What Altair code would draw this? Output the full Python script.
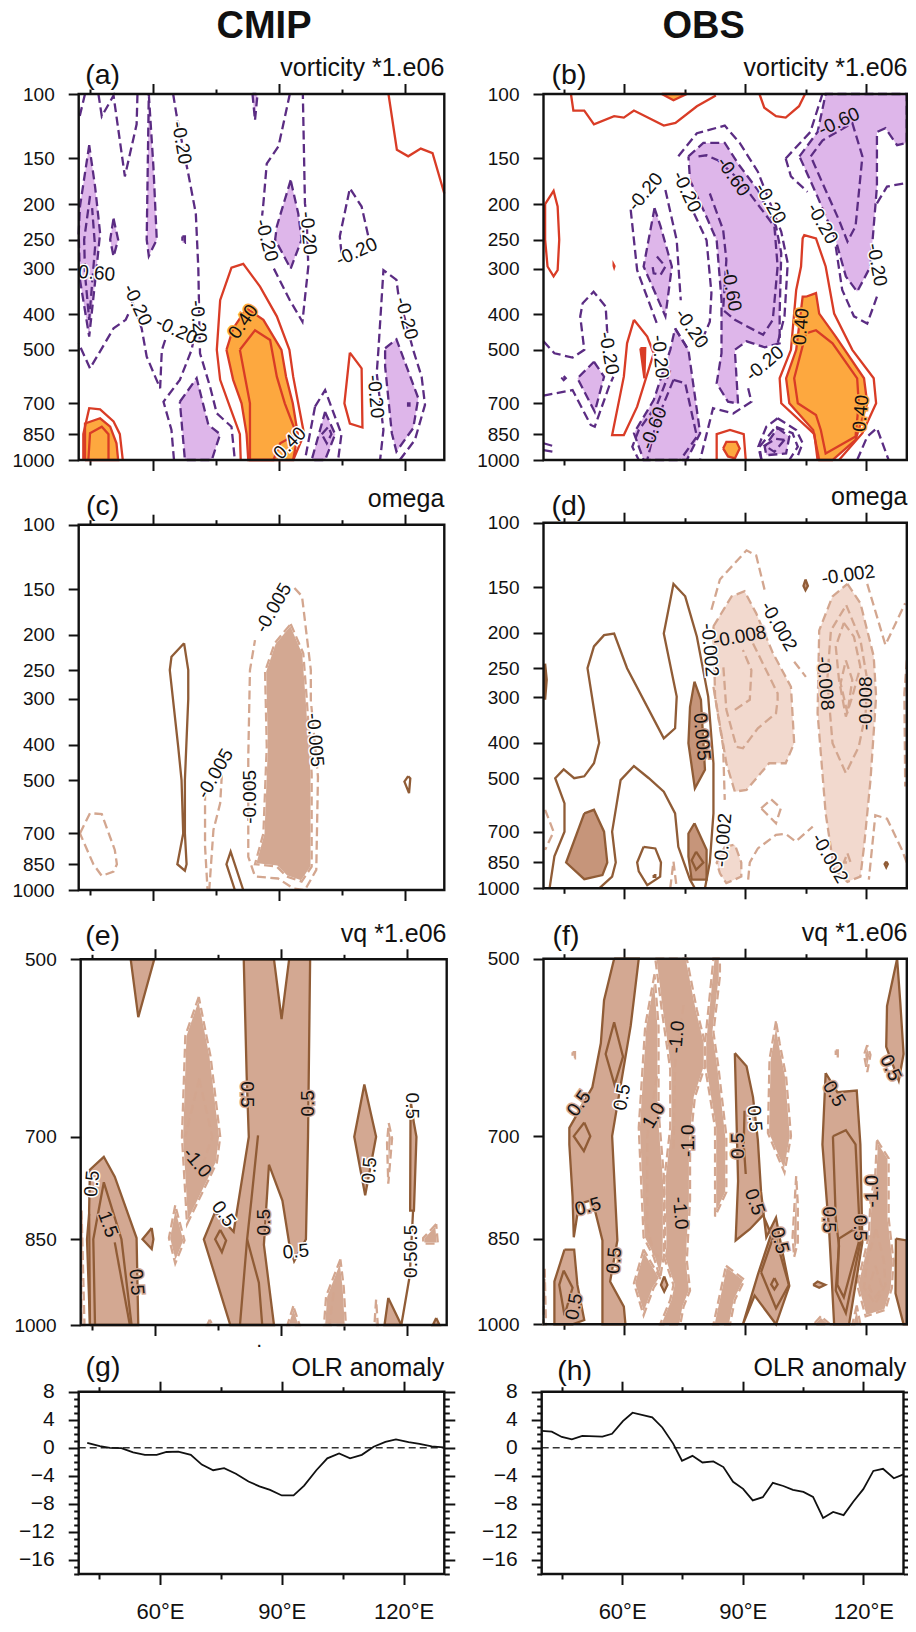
import altair as alt
import pandas as pd

# ---------------- colours
RED = '#D93C26'; PUR = '#5B2C83'; PURF = '#DEB6EA'; ORG = '#FDA83F'
BRN = '#905C36'; LBR = '#D3A68F'; BRF = '#D3A892'; DKF = '#C6957A'; LTF = '#F2D9CE'
INK = '#111111'; FONT = 'Liberation Sans'

LON_TICKS = [60, 90, 120]
LON_MINOR = [45, 75, 105]
P_TICKS = [100, 150, 200, 250, 300, 400, 500, 700, 850, 1000]
VQ_TICKS = [500, 700, 850, 1000]
OLR_TICKS = [8, 4, 0, -4, -8, -12, -16]
OLR_MINOR = [7, 6, 5, 3, 2, 1, -1, -2, -3, -5, -6, -7, -9, -10, -11, -13, -14, -15, -17, -18]

# ---------------- (a) vorticity CMIP : contours as (lon, hPa)
A_ORANGE = [
 [(77.5,500),(79.1,437),(82.3,385),(86.3,414),(90.6,500),(91.7,592),(93.3,700),(94.5,850),(93.4,1000),(82.7,1000),(82.3,850),(81.1,700),(79.1,604)],
 [(43.8,1000),(43.8,795),(47.4,769),(49.8,811),(51.3,900),(51.7,1000)],
]
A_PURPLE = [
 [(44.8,138),(42.6,203),(42.3,240),(42.6,322),(44.8,460),(46.6,296),(47.4,240),(46.2,179)],
 [(50.6,219),(51.7,250),(50.6,278),(49.8,250)],
 [(59,100),(60.1,158),(60.9,250),(59,277),(58.5,250)],
 [(67,245),(67.6,245),(67.6,255),(67,255)],
 [(83.7,100),(84.3,118),(84.9,100)],
 [(66.4,693),(70.4,598),(73.2,802),(76,850),(74,1000),(67.6,1000)],
 [(92.8,172),(89.5,230),(89.1,250),(92.8,300),(95.4,250),(94.6,212)],
 [(115.3,495),(118,468),(123.2,678),(122,818),(118,948),(116.9,845),(115.3,555)],
 [(101,739),(103.4,850),(101,1000),(97.8,1000)],
]
A_RED = [
 [(116.1,100),(118.1,142),(120.8,148),(123.8,141),(126.6,145),(129.4,187)],
 [(80.9,1000),(80.7,850),(78.3,715),(76,604),(75.2,500),(76,366),(78.7,298),(81.5,291),(85.5,336),(89.5,405),(92.5,500),(93.4,592),(94.6,700),(96,850),(93.4,1000)],
 [(80.7,500),(84.3,442),(87.9,470),(89.5,592),(91.4,700),(94.2,850),(90.3,900),(88.7,1000),(83.1,1000),(83.1,700),(81.9,592),(80.7,500)],
 [(43.4,1000),(43.4,850),(44.8,722),(47.4,727),(50.6,785),(52.1,850),(52.8,1000)],
 [(44.6,1000),(45,845),(47.8,811),(49.4,850),(49.4,1000)],
 [(106.9,509),(109.7,562),(109.9,815),(106.9,795),(105.6,700),(106.9,509)],
]
A_PDASH = [
 [(43.8,100),(42.3,118)],
 [(47,100),(47.8,115),(50.6,101),(53.3,168),(56.1,121),(56.3,100)],
 [(64.8,100),(65.6,114),(68.4,165),(70.2,212),(70.8,300),(71,398),(71.2,511),(73.6,631),(75.2,746),(78.7,811),(79.5,1000)],
 [(65,1000),(64.4,828),(62.5,693),(66.4,604),(69.2,500),(69.5,480)],
 [(62.9,470),(62.1,501),(61.7,637),(58.5,522),(57.3,437),(54.9,366),(54.3,340)],
 [(54.1,400),(53.5,414),(50.6,437),(45,562),(42.3,480)],
 [(92.6,100),(89.9,139),(87.1,155),(86.3,199),(86,215)],
 [(88.8,300),(92.6,366),(95.6,419),(97,296),(96.6,216),(96.2,199),(95.7,100)],
 [(104.9,272),(104.5,245),(106.9,181),(109.7,203),(111.3,245)],
 [(118.8,1000),(122.4,881),(124.8,707),(124,592),(122,501),(118.4,350),(118,322),(114.9,303),(113.7,501),(113.3,579),(114.9,828),(114.1,1000)],
 [(98.6,715),(101,644),(104.9,850),(104.1,1000)],
 [(98.6,715),(96.2,1000)],
 [(100.2,850),(101.8,811),(102.5,850),(101.4,900),(100.2,850)],
 [(45,190),(43.6,250),(43.8,310),(44.8,414),(46.2,262),(45.5,205)],
 [(120.5,700),(121.1,700),(121.1,710),(120.5,710)],
]
A_LABELS = [
 ('-0.20',66.8,136,80,'white'),('0.60',46.6,309,5,'white'),('-0.20',56.3,377,65,'white'),
 ('-0.20',65.6,442,25,'white'),('-0.20',70.8,419,85,'white'),('0.40',81.5,419,-55,ORG),
 ('-0.20',87.1,251,75,'white'),('-0.20',97,240,85,'white'),('-0.20',108.5,270,-25,'white'),
 ('-0.20',120.4,410,75,'white'),('-0.20',113,671,85,'white'),('0.40',92.6,900,-45,'white'),
]

# ---------------- (b) vorticity OBS
B_ORANGE = [
 [(69.3,100),(72.2,104),(75.5,100)],
 [(105,358),(107.5,350),(108.3,398),(112.4,460),(119.4,598),(120.2,700),(117.3,881),(111.6,1000),(108.3,1000),(106.8,828),(100.9,700),(100.1,598),(102.6,500),(104.2,358)],
 [(84.5,930),(85.3,892),(87.8,892),(88.6,930),(87.4,990),(85.7,978)],
]
B_PURPLE = [
 [(75.9,148),(79.6,136),(84.9,136),(88.2,155),(93.1,183),(97.6,230),(98.9,272),(98.5,398),(98.5,480),(94.8,492),(90.3,474),(87.4,500),(88.2,701),(85.7,693),(82.9,617),(84.1,511),(84.1,366),(82.9,251),(80,212),(76.3,172)],
 [(103.4,148),(107.9,127),(109.9,100),(130,100),(130,136),(127.6,138),(124.7,124),(122.6,127),(122.6,179),(121,296),(117.7,347),(114.9,315),(112.4,251),(107.9,191)],
 [(67.5,205),(64.8,296),(70.2,405),(71.8,296),(69,230)],
 [(52.5,539),(55,592),(52.7,739),(48.4,598)],
 [(45,590),(45.5,598),(45,605),(44.6,598)],
 [(72.6,437),(75.9,500),(78.8,845),(75.5,1000),(64.8,1000),(62.4,845),(67.3,686),(71.4,500)],
 [(98,818),(100.9,863),(100.1,960),(95.2,970),(94.8,920)],
]
B_RED = [
 [(46.8,100),(47.4,111),(50.1,111),(52.5,121),(57.5,115),(59.9,116),(62.4,111),(69.8,122),(72.7,120),(78,108),(82.7,101)],
 [(93.5,100),(94.7,109),(97.6,115),(100,116),(103.3,108),(104.8,100)],
 [(40.4,200),(42.5,184),(43.5,203),(43.9,250),(43.5,303),(42.5,315),(41,296),(40.4,250),(40.4,200)],
 [(62.4,414),(60.7,480),(59.9,592),(57,855),(59.9,855),(63.2,715),(67.3,511),(65.7,460),(62.4,414)],
 [(64,495),(65.2,495),(65,598),(64,495)],
 [(107.9,1000),(107.1,850),(98.9,700),(98.5,598),(101.3,500),(102.6,343),(103.8,296),(104.2,248),(104.6,243),(107.5,248),(109.9,296),(112,398),(116.5,500),(121.8,598),(122.4,700),(119,845),(113.2,1000)],
 [(105,451),(107.5,442),(111.6,480),(117.7,598),(118.1,700),(117.3,863),(109.9,960),(108.7,828),(107.5,753),(103,700),(102.1,598),(105,451)],
 [(82.9,1000),(82.9,850),(86.2,828),(89.6,850),(90.1,1000)],
]
B_RED_FILLS = [
 [(57.1,284),(57.9,295),(57.5,305),(57.1,295)],
 [(64,495),(65.2,495),(65,598)],
]
B_PDASH = [
 [(73.4,148),(78,128),(84.9,122),(88.6,136),(93.1,163),(98.9,238),(100.5,290),(99.7,405),(98,480)],
 [(77.3,212),(80.4,251),(81.6,350),(81.2,419),(78.4,495)],
 [(78.4,148),(80.4,147),(83.3,152),(88.6,172),(92.3,195),(97.2,230),(98,296),(96.8,414),(94.4,455),(87.4,414),(84.5,389),(85.3,284),(84.5,235),(81.2,187)],
 [(100,150),(106.1,127),(109.1,100)],
 [(100,150),(101.3,168),(105.4,185)],
 [(112.4,261),(114,343),(116.9,405),(120.2,424),(122.6,358)],
 [(122.6,199),(125.1,179),(130,175)],
 [(106.2,148),(109.1,134),(116.5,120),(119,148),(117.3,230),(115.3,253),(113.2,221),(109.1,175),(106.2,148)],
 [(61.6,207),(63.2,303),(68.1,424)],
 [(70.2,183),(73,251),(74,366)],
 [(68.1,278),(70.2,296),(69,312),(67.3,309),(66.9,290)],
 [(40,474),(42.7,511),(47.2,525),(50.1,500),(49.1,405),(49.7,373),(52.4,347),(55.4,381),(55.8,451)],
 [(40,667),(47.2,644),(51.7,802),(52.7,811),(56.2,631),(57.3,592)],
 [(72.6,437),(75.9,500)],
 [(72.2,604),(75.1,617),(78,863),(73.9,1000)],
 [(72.2,604),(68.1,778),(65.7,1000)],
 [(71.4,569),(68.1,707),(63.6,828),(62,920),(63.6,1000)],
 [(90.7,637),(91.5,693),(87,746),(82,722),(78.8,1000)],
 [(98,769),(102.6,828),(104.2,900),(102.6,1000)],
 [(94,1000),(93.2,920),(95.2,811),(98,769)],
 [(97.6,811),(101.7,845),(103,920),(100.9,1000)],
 [(94,1000),(93.5,920),(97.6,811)],
 [(99.7,881),(97.2,950),(94.8,913),(97.6,875),(99.7,881)],
 [(117.7,1000),(120.2,863),(122.6,818),(125.5,1000)],
 [(40,900),(43,920)],
 [(40,940),(42.6,950)],
]
B_LABELS = [
 ('-0.20',65.2,185,-50,'white'),('-0.20',75.5,185,65,'white'),('-0.60',87,168,55,PURF),
 ('-0.20',96.2,199,60,'white'),('-0.60',113.2,119,-25,PURF),('-0.20',109.1,226,60,'white'),
 ('-0.20',122.6,293,80,'white'),('-0.60',86.6,343,80,PURF),('-0.20',76.7,437,55,'white'),
 ('-0.20',56.2,511,80,'white'),('-0.20',68.9,522,85,'white'),('-0.20',94.8,545,-40,'white'),
 ('0.40',103.8,432,-85,ORG),('0.40',118.6,746,-85,ORG),('-0.60',67.3,818,-69,PURF),
]

# ---------------- (c) omega CMIP
C_FILL = [[(92.8,187),(95.8,225),(96.6,296),(97.8,480),(97.8,863),(95.4,948),(91.8,918),(89.5,863),(84.3,850),(86.3,700),(87.1,405),(86.7,252),(89,211)]]
C_SOLID = [
 [(67.4,211),(64.4,230),(64,250),(66,405),(66.8,500),(67.2,700),(65.8,850),(67.6,885),(68,850),(67.6,700),(67.6,500),(68.4,300),(68.4,250),(67.4,211)],
 [(79.5,1000),(77.5,850),(78.5,785),(81.5,1000)],
 [(120.8,488),(119.9,505),(121,543),(121.3,495),(120.8,488)],
]
C_DASH = [
 [(42.6,700),(45,616),(47.8,620),(50.9,777),(51.4,850),(50.6,890),(47.8,915),(45.8,850),(42.6,700)],
 [(72.4,538),(72.4,760),(73,1000)],
 [(76.4,484),(76,579),(74.4,685),(73.4,1000)],
 [(93.7,149),(95.5,157),(97.6,250),(97.6,302),(99.3,490),(98.9,881),(96.2,1000),(93.4,990),(89.8,930),(84.3,918),(82.7,811),(82.7,671),(82.7,431),(83.1,250),(84.3,207)],
]
C_LABELS = [
 ('-0.005',88.7,169,-60,'white'),('-0.005',98.6,388,85,'white'),
 ('-0.005',74.8,480,-60,'white'),('-0.005',83,556,-90,'white'),
]

# ---------------- (d) omega OBS
D_DARK = [
 [(50.1,624),(52.5,610),(55,700),(55.8,850),(54.6,920),(50.1,944),(45.6,850)],
 [(77.4,272),(79,305),(80,474),(77.5,533),(75.9,401),(76.3,319)],
 [(77.4,664),(80.4,785),(80.4,947),(76.7,947),(75.9,818),(75.9,708)],
 [(40.4,243),(40.8,269),(40.4,305)],
 [(104.9,143),(105.5,149),(104.9,153),(104.4,149)],
 [(124.9,845),(125.3,859),(124.9,877),(124.5,859)],
]
D_LIGHT = [
 [(82.1,192),(86.6,159),(89.8,154),(92.7,177),(96.8,227),(101.3,281),(102.1,401),(100,455),(95.9,455),(90.3,538),(87.4,544),(85.3,455),(82.5,299)],
 [(115.3,147),(118.5,166),(121.8,232),(122.4,299),(121,506),(119.4,770),(118.5,929),(115.3,960),(112,890),(109.9,624),(107.9,332),(108.3,197),(111.6,159)],
 [(84.9,770),(87.4,760),(89,850),(89,929),(85.3,968),(83.7,910),(82.9,850)],
]
D_SOLID = [
 [(41.5,1000),(42.7,818),(45.2,700),(45.2,586),(42.9,500),(45,473),(47.6,500),(50.1,494),(52.5,455),(53.8,400),(50.9,250),(52.5,218),(55,203),(57.5,201),(60.7,250),(69.8,389),(72.6,365),(73,299),(69.8,201),(72.2,147),(75.1,159),(78,205),(80.8,299),(82.1,455),(82.1,624),(81.2,850),(80,1000)],
 [(53.8,1000),(57,929),(57.9,850),(57,700),(59.1,506),(62.4,463),(66.1,500),(69.8,544),(72.6,624),(73.4,770),(76.3,947),(77.5,1000)],
 [(77.8,794),(79.6,850),(77.8,890),(76.7,838),(77.8,794)],
 [(64.8,770),(67.7,778),(69.1,850),(68.9,929),(65.7,980),(63.6,899),(63.2,850),(64.8,770)],
 [(67.3,920),(67.7,920),(67.7,930),(67.3,930),(67.3,920)],
]
D_DASH = [
 [(81.6,173),(83.7,143),(90.3,119),(92.7,123),(94.8,153)],
 [(102.1,240),(105,264)],
 [(120.2,147),(124.7,216),(129.6,166)],
 [(91.9,214),(98,293),(98,305),(97.6,332),(93.1,365),(89.4,414),(87.8,410),(85.3,325),(84.5,243)],
 [(87.4,325),(91.1,305),(91.5,253),(89.4,223)],
 [(115,168),(118.5,209),(120.2,269),(119.8,332),(118.1,410),(114.9,484),(111.6,401),(110.3,269),(111.2,197),(115,168)],
 [(114.4,188),(116.9,205),(118.5,248),(116.5,299),(114.9,339),(113.2,269),(112.4,218),(114.4,188)],
 [(114.9,238),(116.5,269),(115.3,332),(113.6,275),(114.9,238)],
 [(115.3,802),(116.1,850),(114.4,850),(115.3,802)],
 [(90.7,947),(91.1,850),(93.1,778),(97.6,714),(100,710),(102.5,745),(106.7,678)],
 [(130,850),(128.8,785),(125.1,645),(122.2,631),(120.6,947)],
 [(93.9,604),(96.4,571),(98.8,604),(97.6,664),(93.9,604)],
 [(40.4,610),(42.5,700),(40.4,785)],
 [(71.4,1000),(72.2,845),(73,1000)],
 [(130,238),(129.4,293),(129.6,527)],
 [(82.1,281),(84.5,410),(84.9,573)],
]
D_LABELS = [
 ('-0.002',81.2,223,85,'white'),('-0.008',88.6,205,-10,LTF),('-0.002',98.3,192,60,'white'),
 ('-0.002',115.5,139,-8,'white'),('-0.008',109.8,275,85,LTF),('-0.008',119.8,312,-90,LTF),
 ('0.005',79.2,385,85,DKF),('-0.002',84.5,738,-85,'white'),('-0.002',110.9,828,60,'white'),
]

# ---------------- (e) vq CMIP
E_SOLIDF = [
 [(54.2,500),(56,558),(59.8,500)],
 [(81.1,500),(81.8,624),(82.3,700),(78.7,838),(74.3,807),(71.6,850),(77.9,1000),(88.3,1000),(85.9,859),(87.1,738),(90.3,790),(91.9,856),(93.1,886),(95.9,850),(96.4,700),(96.9,500),(91.9,500),(90.1,560),(88.3,500)],
 [(44.5,1000),(44.3,805),(44.5,745),(47.8,727),(50.4,755),(55.6,848),(56,1000)],
 [(59.2,832),(57,850),(59.2,866),(59.6,850)],
 [(109.8,634),(107.4,700),(110,782),(112.6,700)],
 [(120.8,653),(120.7,805),(121.6,805),(122.2,700),(121.6,682)],
 [(115.5,950),(114.6,1000),(118.6,1000)],
 [(126.9,987),(126.1,1000),(127.7,1000)],
]
E_LIGHTF = [
 [(70.4,537),(67.2,578),(66.4,700),(67.6,826),(74.7,735),(75.5,700),(73.2,601)],
 [(64.8,797),(63.3,848),(64.8,890),(67,852)],
 [(115.6,682),(116.4,702),(115.5,765),(115.2,708)],
 [(126.9,826),(123.8,848),(123.8,857),(127.3,857)],
 [(104.1,883),(100.7,947),(100.2,1000),(105.4,1000),(104.9,931)],
 [(112.6,953),(112.2,1000),(113,1000)],
 [(92.9,965),(91.5,1000),(94.4,1000)],
 [(73,990),(72.4,1000),(73.7,1000)],
 [(42.5,805),(43.2,1000),(42.4,1000)],
]
E_SOLID = [
 [(84.5,698),(82.9,790),(81.9,850),(80.2,1000)],
 [(81.9,850),(84.7,923),(85.5,1000)],
 [(75.5,835),(76.9,852),(75.9,871),(74.3,850),(75.5,835)],
 [(44.3,810),(43.8,850),(44.5,1000)],
 [(45.7,1000),(45.3,850),(47.8,763),(52,850),(54.4,1000)],
 [(50.4,855),(54,1000)],
 [(121.4,805),(120.6,911),(118.6,1000)],
]
E_DASH = [
 [(70.5,627),(67.2,700)],
 [(70.5,627),(73.6,700),(71.5,735)],
 [(102.5,940),(101.5,1000)],
]
E_LABELS = [
 ('0.5',45,765,-85,'white'),('1.5',48.8,826,70,BRF),('0.5',55.6,922,85,BRF),('-1.0',70,735,50,BRF),
 ('0.5',76.3,810,55,'white'),('0.5',81.9,646,90,BRF),('0.5',86,823,-90,BRF),('0.5',96.3,657,-90,BRF),
 ('0.5',93.5,870,-5,'white'),('0.5',111,746,-85,'white'),('0.5',121.1,660,90,'white'),
 ('0.5',120.8,848,-90,'white'),('0.5',121,892,-90,'white'),
]

# ---------------- (f) vq OBS
F_SOLIDF = [
 [(57.5,500),(55,541),(54.2,587),(52.1,638),(46.4,689),(46.4,711),(47.2,785),(47.5,848),(48.8,796),(52.1,790),(54.6,853),(54.6,1000),(60.3,1000),(59.9,967),(56.5,922),(58.3,853),(57,700),(61.6,568),(63.6,500)],
 [(87.4,598),(90.3,613),(91.9,650),(93.1,705),(93.9,778),(95.2,848),(97.6,817),(98.9,862),(100.9,930),(97.6,1000),(92.3,947),(89.4,1000),(93.1,910),(96.4,843),(94.4,813),(91.1,835),(87.6,853),(88.2,762)],
 [(109.9,621),(109.1,711),(110.8,842),(112,1000),(115.7,1000),(119,856),(118.5,711),(117.6,642),(112.8,644)],
 [(127.6,500),(125.1,547),(124.9,591),(128,630),(129.2,599),(128.4,544)],
 [(45.2,868),(47.6,868),(48.4,928),(50.1,992),(47.2,1000),(42.7,1000),(42.7,922)],
 [(127.3,850),(130,853),(130,1000),(129.2,1000),(127.2,943)],
 [(106.8,928),(107.9,922),(109.8,928),(108.3,933)],
 [(69.9,913),(69.1,928),(69.9,940),(70.7,928)],
 [(97.2,916),(96.4,927),(97.2,936),(98,927)],
]
F_LIGHTF = [
 [(67.5,515),(65.2,568),(63.6,689),(64.8,848),(67.3,880),(68.9,916),(70.2,862),(69.9,762),(68.5,667),(68.5,568)],
 [(67.7,500),(75.5,500),(78,551),(80,587),(80,613),(77.5,650),(76.3,711),(76.3,790),(75.5,886),(76.3,938),(74.7,967),(73.9,1000),(68.9,1000),(71.4,955),(72.2,928),(69.8,880),(69.9,762),(71.4,689),(71.4,617),(69.3,551)],
 [(83.7,500),(82.1,500),(80,587),(80,613),(82.5,689),(82.5,815),(85.3,778),(85.3,700),(83.3,613),(82.1,575),(83.7,517)],
 [(64.8,868),(62.4,925),(64.8,983),(67.3,933),(68.9,916)],
 [(97.6,563),(96,605),(95.6,696),(99.7,750),(101.3,700),(100.1,625),(98.5,587)],
 [(102.6,755),(101.7,848),(102.1,880),(103,856),(103,796)],
 [(85.2,895),(89.8,919),(87.4,955),(86.2,1000),(82.1,1000)],
 [(122.6,705),(125.5,730),(125.5,818),(126.7,886),(126.3,933),(124.7,973),(119.8,985),(117.7,928),(120.6,846),(121,790),(122.2,752)],
 [(120.2,589),(119.4,600),(120.2,620),(121,600)],
 [(112.4,595),(112.9,595),(112.9,603),(112.4,603)],
 [(47.2,597),(47.8,597),(47.8,604),(47.2,604)],
 [(117.6,965),(116.5,1000),(118.5,1000)],
 [(108.7,985),(106.9,1000),(111,1000)],
 [(40.3,900),(40.6,1000),(40,1000)],
]
F_SOLID = [
 [(57.5,564),(55.4,599),(57.6,635),(59.7,602),(57.5,564)],
 [(50.1,682),(47.5,700),(50,720),(51.6,700),(50.1,682)],
 [(89.8,667),(89.6,711),(90.1,752)],
 [(93.9,906),(97.2,842),(100.8,928),(97.6,970),(93.9,906)],
 [(111.7,700),(112.4,818),(113.2,862),(112.4,938),(114.9,979),(118.5,856),(117.3,711),(114.9,692),(111.7,700)],
 [(116.9,835),(113.2,850),(112.8,928),(114.4,950),(118.1,856),(116.9,835)],
 [(45,903),(47.2,933),(45.2,983),(43.9,928),(45,903)],
]
F_DASH = [
 [(122.4,835),(124.3,886),(124.7,928),(122.2,962),(119.4,933),(120.2,886),(122.4,835)],
 [(122.2,895),(123.9,933),(122.2,950),(120.6,933),(122.2,895)],
 [(74.7,546),(72.6,610),(72.2,720)],
 [(68.1,625),(65.7,700),(65.7,830),(67.3,875),(68.9,880)],
]
F_LABELS = [
 ('0.5',48.8,658,-55,BRF),('0.5',59.5,650,-80,'white'),('-1.0',73,580,-85,BRF),('1.0',67.3,673,-60,BRF),
 ('-1.0',75.9,706,-90,BRF),('-1.0',73.9,810,85,BRF),('0.5',51,800,-15,BRF),('0.5',57.5,886,-85,BRF),
 ('0.5',47.6,967,-80,BRF),('0.5',92.3,677,85,'white'),('0.5',88.2,713,-90,BRF),('0.5',92.3,793,70,BRF),
 ('0.5',98.5,853,75,BRF),('0.5',112,646,60,BRF),('0.5',110.8,820,90,BRF),('0.5',118.5,833,90,BRF),
 ('-1.0',121.4,777,-90,BRF),('0.5',126,615,65,BRF),
]

# ---------------- (g)(h) OLR
G_LON = [42.1,45.2,47.7,50.5,53.4,56.3,59.2,61.6,64.5,67.6,70.3,73.1,75.8,78.7,81.8,84.5,87.1,90,92.9,95.5,98.5,101.2,104.1,106.8,109.7,112.6,115.5,118.1,121.2,123.9,126.9,129.8]
G_OLR = [.7,.25,0,-.05,-.65,-1,-1,-.6,-.55,-1,-2.4,-3.2,-2.9,-3.7,-4.8,-5.5,-6,-6.8,-6.8,-5.4,-3.2,-1.5,-.8,-1.5,-1,.15,.85,1.2,.8,.55,.2,.05]
H_LON = [40,42.5,45,47.5,50.1,55.1,57.5,60.2,62.6,67.5,70,72.7,74.9,77.5,80,82.7,85.2,87.6,90.1,92.5,95,97.5,100.1,102.5,105.1,107.5,110,112.5,115.1,117.5,120,122.5,124.9,127.6,130]
H_OLR = [2.4,2.3,1.55,1.2,1.7,1.6,2,3.8,5,4.35,2.9,.6,-1.85,-1.15,-2.1,-1.95,-2.75,-4.85,-5.85,-7.5,-7.05,-5,-5.45,-6,-6.3,-7,-10,-9.15,-9.6,-7.7,-5.9,-3.3,-3,-4.35,-3.8]

W, H = 900, 1616
def px(v):
    return v - 8

def poly_df(polys, closed=False):
    rows = []
    for k, pl in enumerate(polys):
        pts = list(pl) + ([pl[0]] if closed else [])
        for i, (lo, pr) in enumerate(pts):
            rows.append({'id': k, 'i': i, 'lon': lo, 'p': pr})
    return pd.DataFrame(rows)

def make_panel(L, R, T, B, xdom, ydom, ytype, yticks, yminor, fills, lines, labels,
               xlabels=False, right=False, ylab=19, extra=None):
    xs = alt.Scale(domain=xdom, range=[px(L), px(R)], nice=False, zero=False)
    if ytype == 'log':
        ys = alt.Scale(type='log', base=10, domain=ydom, range=[px(T), px(B)], nice=False)
    else:
        ys = alt.Scale(domain=ydom, range=[px(T), px(B)], nice=False, zero=False)
    X = alt.X('lon:Q', scale=xs, axis=None)
    Y = alt.Y('p:Q', scale=ys, axis=None)
    layers = []
    for polys, color in fills:
        layers.append(alt.Chart(poly_df(polys)).mark_line(fill=color, stroke=color, strokeWidth=0)
                      .encode(x=X, y=Y, detail='id:N', order='i:Q'))
    for polys, color, dash, closed in lines:
        kw = {'strokeDash': dash} if dash else {}
        layers.append(alt.Chart(poly_df(polys, closed)).mark_line(stroke=color, strokeWidth=2.3, **kw)
                      .encode(x=X, y=Y, detail='id:N', order='i:Q'))
    if extra:
        layers += extra(X, Y)
    if labels:
        ldf = pd.DataFrame([{'t': t, 'lon': lo, 'p': pr, 'a': a % 360, 'h': h} for t, lo, pr, a, h in labels])
        base = alt.Chart(ldf)
        enc = dict(x=X, y=Y, text='t:N', angle=alt.Angle('a:Q', scale=None))
        layers.append(base.mark_text(font=FONT, fontSize=19, strokeWidth=3, baseline='middle', align='center')
                      .encode(stroke=alt.Stroke('h:N', scale=None), **enc))
        layers.append(base.mark_text(font=FONT, fontSize=19, fill=INK, baseline='middle', align='center').encode(**enc))

    frame = pd.DataFrame({'lon': [xdom[0]], 'lon2': [xdom[1]], 'p': [ydom[0]], 'p2': [ydom[1]]})
    layers.append(alt.Chart(frame).mark_rect(fill='transparent', stroke=INK, strokeWidth=2.4)
                  .encode(x=X, x2='lon2:Q', y=Y, y2='p2:Q'))

    def ax_layer(xaxis=None, yaxis=None):
        return alt.Chart(frame).mark_point(opacity=0).encode(
            x=alt.X('lon:Q', scale=xs, axis=xaxis), y=alt.Y('p:Q', scale=ys, axis=yaxis))
    common = dict(domain=False, grid=False, title=None, tickColor=INK, tickWidth=2)
    def xax(orient, values, size, labs=False):
        off = -px(T) if orient == 'top' else px(B) - H
        kw = dict(labels=labs)
        if labs:
            kw.update(labelFont=FONT, labelFontSize=22, labelColor=INK, labelPadding=17,
                      labelExpr="datum.value + '°E'", labelAngle=0)
        return alt.Axis(orient=orient, values=values, tickSize=size, offset=off, **common, **kw)
    def yax(orient, values, size, labs=False):
        off = -px(L) if orient == 'left' else px(R) - W
        kw = dict(labels=labs)
        if labs:
            kw.update(labelFont=FONT, labelFontSize=ylab, labelColor=INK, labelPadding=14, format='d')
        return alt.Axis(orient=orient, values=values, tickSize=size, offset=off, **common, **kw)
    layers.append(ax_layer(xax('bottom', LON_TICKS, 10.5, xlabels), yax('left', yticks, 10.5, True)))
    layers.append(ax_layer(xax('top', LON_TICKS, 10.5), None))
    layers.append(ax_layer(xax('bottom', LON_MINOR, 5), None))
    layers.append(ax_layer(xax('top', LON_MINOR, 5), None))
    if yminor:
        layers.append(ax_layer(None, yax('left', yminor, 5)))
    if right:
        layers.append(ax_layer(None, yax('right', yticks, 10.5)))
        layers.append(ax_layer(None, yax('right', yminor, 5)))
    return alt.layer(*layers).resolve_axis(x='independent', y='independent')

D1 = [9, 4.5]
XA = [42.3, 129.4]; XB = [40, 130]
RL, RR = 543.5, 906.8

pa = make_panel(78.7, 444.3, 94, 460, XA, [100, 1000], 'log', P_TICKS, None,
    [(A_PURPLE, PURF), (A_ORANGE, ORG)],
    [(A_PURPLE, PUR, D1, True), (A_PDASH, PUR, D1, False), (A_ORANGE, RED, None, True), (A_RED, RED, None, False)], A_LABELS)
pb = make_panel(RL, RR, 94, 460, XB, [100, 1000], 'log', P_TICKS, None,
    [(B_PURPLE, PURF), (B_ORANGE, ORG), (B_RED_FILLS, RED)],
    [(B_PURPLE, PUR, D1, True), (B_PDASH, PUR, D1, False), (B_ORANGE, RED, None, True), (B_RED, RED, None, False)], B_LABELS)
pc = make_panel(78.7, 444.3, 524.7, 890, XA, [100, 1000], 'log', P_TICKS, None,
    [(C_FILL, BRF)],
    [(C_FILL, 'white', None, True), (C_FILL, LBR, D1, True), (C_DASH, LBR, D1, False), (C_SOLID, BRN, None, False)], C_LABELS)
pd_ = make_panel(RL, RR, 522.7, 888.3, XB, [100, 1000], 'log', P_TICKS, None,
    [(D_LIGHT, LTF), (D_DARK, DKF)],
    [(D_LIGHT, LBR, D1, True), (D_DASH, LBR, D1, False), (D_DARK, BRN, None, True), (D_SOLID, BRN, None, False)], D_LABELS)
pe = make_panel(80.7, 446.7, 959.3, 1325, XA, [500, 1000], 'log', VQ_TICKS, None,
    [(E_SOLIDF, BRF), (E_LIGHTF, BRF)],
    [(E_LIGHTF, 'white', None, True), (E_LIGHTF, LBR, D1, True), (E_DASH, LBR, D1, False), (E_SOLIDF, BRN, None, True), (E_SOLID, BRN, None, False)], E_LABELS)
pf = make_panel(RL, RR, 958.7, 1324.3, XB, [500, 1000], 'log', VQ_TICKS, None,
    [(F_LIGHTF, BRF), (F_SOLIDF, BRF)],
    [(F_LIGHTF, 'white', None, True), (F_LIGHTF, LBR, D1, True), (F_DASH, LBR, D1, False), (F_SOLIDF, BRN, None, True), (F_SOLID, BRN, None, False)], F_LABELS)

def olr_extra(lons, vals, xdom):
    def build(X, Y):
        zero = pd.DataFrame({'lon': [xdom[0]], 'lon2': [xdom[1]], 'p': [0]})
        curve = pd.DataFrame({'lon': lons, 'p': vals, 'i': range(len(lons))})
        return [
            alt.Chart(zero).mark_rule(stroke='#333333', strokeWidth=1.5, strokeDash=[7, 4]).encode(x=X, x2='lon2:Q', y=Y),
            alt.Chart(curve).mark_line(stroke='#111111', strokeWidth=1.8).encode(x=X, y=Y, order='i:Q'),
        ]
    return build

pg = make_panel(78.7, 444.3, 1391.7, 1574, XB, [8, -18], 'linear', OLR_TICKS, OLR_MINOR, [], [], None,
    xlabels=True, right=True, ylab=21, extra=olr_extra(G_LON, G_OLR, XB))
ph = make_panel(541.7, 903.5, 1391.7, 1574, XB, [8, -18], 'linear', OLR_TICKS, OLR_MINOR, [], [], None,
    xlabels=True, right=True, ylab=21, extra=olr_extra(H_LON, H_OLR, XB))

HEADS = [('CMIP', 264, 38, 'center', 38, 'bold'), ('OBS', 703.7, 38, 'center', 38, 'bold')]
TAGS = [('(a)', 102.7, 84), ('(b)', 569, 84), ('(c)', 102.7, 515), ('(d)', 569, 515),
        ('(e)', 102.7, 945), ('(f)', 566, 945), ('(g)', 103, 1376), ('(h)', 574.7, 1380)]
RIGHTS = [('vorticity *1.e06', 444.3, 76), ('vorticity *1.e06', 907.5, 76), ('omega', 444.3, 506.7),
          ('omega', 907.5, 505), ('vq *1.e06', 446.5, 941.7), ('vq *1.e06', 907.5, 941),
          ('OLR anomaly', 444.3, 1376), ('OLR anomaly', 906.3, 1376)]

def text_mark(t, x, y, size, align='center', weight='normal'):
    return alt.Chart(pd.DataFrame({'t': [t]})).mark_text(
        font=FONT, fontSize=size, fontWeight=weight, align=align, baseline='alphabetic', fill=INK
    ).encode(x=alt.value(px(x)), y=alt.value(px(y)), text='t:N')

texts = [text_mark(t, x, y, s, a, w) for t, x, y, a, s, w in HEADS]
texts += [text_mark(t, x, y, 28.5) for t, x, y in TAGS]
texts += [text_mark(t, x, y, 25, 'right') for t, x, y in RIGHTS]
texts += [text_mark('.', 259.3, 1347, 14, 'center', 'bold')]

chart = alt.layer(pa, pb, pc, pd_, pe, pf, pg, ph, *texts).resolve_scale(
    x='independent', y='independent'
).properties(
    width=W, height=H, padding=0, autosize=alt.AutoSizeParams(type='none')
).configure_view(stroke=None).configure_axis(grid=False)

chart.save("out.html", embed_options={"renderer": "svg", "actions": False})
